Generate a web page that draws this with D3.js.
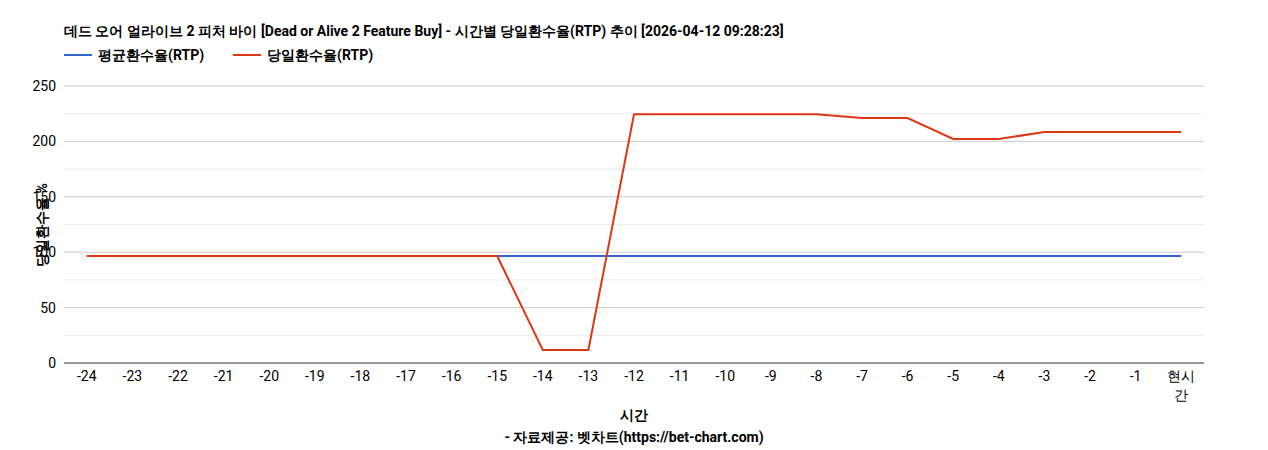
<!DOCTYPE html>
<html><head><meta charset="utf-8">
<script src="https://cdn.jsdelivr.net/npm/d3@7"></script>
<style>body{margin:0;background:#fff;font-family:Roboto,Arial,sans-serif}</style>
</head><body><svg id="c" width="1268" height="450"></svg>
<script>
const categories = ["-24","-23","-22","-21","-20","-19","-18","-17","-16","-15","-14","-13","-12","-11","-10","-9","-8","-7","-6","-5","-4","-3","-2","-1","현시간"];
const avgRTP = [96.6,96.6,96.6,96.6,96.6,96.6,96.6,96.6,96.6,96.6,96.6,96.6,96.6,96.6,96.6,96.6,96.6,96.6,96.6,96.6,96.6,96.6,96.6,96.6,96.6];
const dailyRTP = [96.6,96.6,96.6,96.6,96.6,96.6,96.6,96.6,96.6,96.6,11.7,11.7,224.5,224.5,224.5,224.5,224.5,221.1,221.1,202.2,202.2,208.4,208.4,208.4,208.4];
const yTicks = [0,50,100,150,200,250];
const title = "데드 오어 얼라이브 2 피처 바이 [Dead or Alive 2 Feature Buy] - 시간별 당일환수율(RTP) 추이 [2026-04-12 09:28:23]";
const seriesNames = ["평균환수율(RTP)","당일환수율(RTP)"];
const colors = ["#3366cc","#dc3912"];

const svg = d3.select("#c");
const L=64,R=1204,T=86,B=363;
const x = d3.scalePoint().domain(categories).range([L,R]).padding(0.5);
const y = d3.scaleLinear().domain([0,250]).range([B,T]);

svg.append("text").attr("x",64).attr("y",36).attr("font-size",14).attr("font-weight","bold").text(title);
seriesNames.forEach((n,i)=>{
  const lx = i===0?64:233;
  svg.append("line").attr("x1",lx).attr("x2",lx+28).attr("y1",55).attr("y2",55).attr("stroke",colors[i]).attr("stroke-width",2);
  svg.append("text").attr("x",lx+34).attr("y",60).attr("font-size",14).attr("font-weight","bold").text(n);
});
// minor grid
d3.range(25,250,50).forEach(v=>svg.append("line").attr("x1",L).attr("x2",R).attr("y1",y(v)).attr("y2",y(v)).attr("stroke","#ebebeb"));
yTicks.forEach(v=>{
  svg.append("line").attr("x1",L).attr("x2",R).attr("y1",y(v)).attr("y2",y(v)).attr("stroke",v===0?"#333":"#ccc");
  svg.append("text").attr("x",L-8).attr("y",y(v)+5).attr("text-anchor","end").attr("font-size",14).text(v);
});
categories.forEach(c=>{
  if(c==="현시간"){
    svg.append("text").attr("x",x(c)).attr("y",381).attr("text-anchor","middle").attr("font-size",14).text("현시");
    svg.append("text").attr("x",x(c)).attr("y",400).attr("text-anchor","middle").attr("font-size",14).text("간");
  } else svg.append("text").attr("x",x(c)).attr("y",381).attr("text-anchor","middle").attr("font-size",14).text(c);
});
const line = d3.line().x((d,i)=>x(categories[i])).y(d=>y(d));
[avgRTP,dailyRTP].forEach((s,i)=>svg.append("path").attr("d",line(s)).attr("fill","none").attr("stroke",colors[i]).attr("stroke-width",2));
svg.append("text").attr("x",634).attr("y",420).attr("text-anchor","middle").attr("font-size",14).attr("font-weight","bold").text("시간");
svg.append("text").attr("x",634).attr("y",442).attr("text-anchor","middle").attr("font-size",14).attr("font-weight","bold").text("- 자료제공: 벳차트(https://bet-chart.com)");
svg.append("text").attr("transform","translate(47,225) rotate(-90)").attr("text-anchor","middle").attr("font-size",14).attr("font-weight","bold").text("당일환수율 %");
</script></body></html>
